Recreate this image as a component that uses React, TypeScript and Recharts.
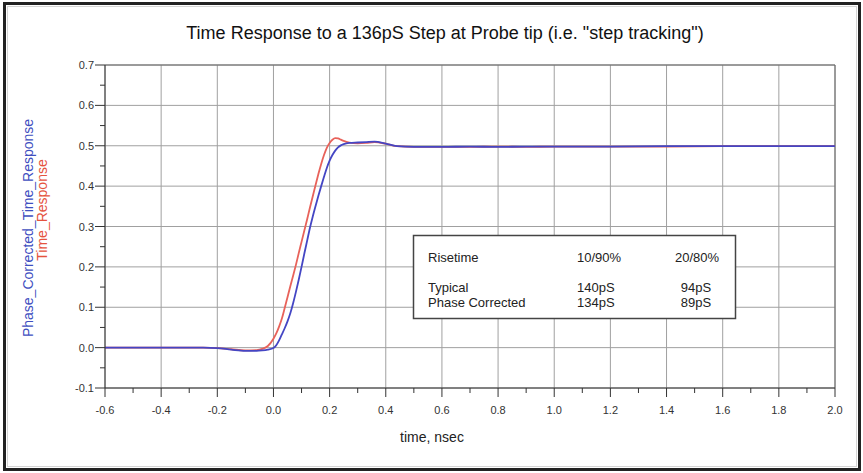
import React from 'react';
import { LineChart, Line, XAxis, YAxis, CartesianGrid, ReferenceLine } from 'recharts';

// time axis in nsec, step response values
const time = [
  -0.6, -0.4, -0.25, -0.2, -0.15, -0.1, -0.06, -0.04, -0.02, 0, 0.01, 0.02, 0.03, 0.04, 0.05,
  0.06, 0.07, 0.08, 0.09, 0.1, 0.11, 0.12, 0.13, 0.14, 0.15, 0.16, 0.17, 0.18, 0.19, 0.2,
  0.21, 0.22, 0.23, 0.24, 0.25, 0.27, 0.3, 0.33, 0.36, 0.4, 0.44, 0.5, 0.6, 0.7, 0.8, 0.9,
  1.0, 1.2, 1.4, 1.6, 1.8, 2.0,
];
const timeResponse = [
  0, 0, 0, -0.001, -0.004, -0.007, -0.006, -0.003, 0.004, 0.022, 0.035, 0.052, 0.072, 0.098, 0.125,
  0.152, 0.178, 0.205, 0.234, 0.262, 0.29, 0.318, 0.347, 0.375, 0.403, 0.43, 0.455, 0.477, 0.495, 0.507,
  0.515, 0.519, 0.518, 0.515, 0.512, 0.508, 0.506, 0.507, 0.509, 0.505, 0.499, 0.497, 0.497, 0.497, 0.498, 0.497,
  0.498, 0.498, 0.498, 0.499, 0.499, 0.499,
];
const phaseCorrected = [
  0, 0, 0, -0.001, -0.005, -0.008, -0.008, -0.007, -0.005, -0.001, 0.006, 0.018, 0.033, 0.048, 0.065,
  0.085, 0.11, 0.138, 0.168, 0.2, 0.233, 0.265, 0.297, 0.325, 0.351, 0.376, 0.4, 0.423, 0.445, 0.463,
  0.477, 0.488, 0.496, 0.501, 0.504, 0.507, 0.508, 0.509, 0.51, 0.505, 0.499, 0.497, 0.497, 0.498, 0.497, 0.498,
  0.498, 0.498, 0.499, 0.499, 0.499, 0.499,
];

const xTicks = [
  -0.6, -0.5, -0.4, -0.3, -0.2, -0.1, 0, 0.1, 0.2, 0.3, 0.4, 0.5, 0.6, 0.7, 0.8, 0.9,
  1.0, 1.1, 1.2, 1.3, 1.4, 1.5, 1.6, 1.7, 1.8, 1.9, 2.0,
];
const yTicks = [
  -0.1, -0.05, 0, 0.05, 0.1, 0.15, 0.2, 0.25, 0.3, 0.35, 0.4, 0.45, 0.5, 0.55, 0.6, 0.65, 0.7,
];
const xGrid = [-0.6, -0.4, -0.2, 0, 0.2, 0.4, 0.6, 0.8, 1.0, 1.2, 1.4, 1.6, 1.8, 2.0];
const yGrid = [-0.1, 0, 0.1, 0.2, 0.3, 0.4, 0.5, 0.6, 0.7];

const riseHeader = ['Risetime', '10/90%', '20/80%'];
const riseRows = [
  ['Typical', '140pS', '94pS'],
  ['Phase Corrected', '134pS', '89pS'],
];

const data = time.map((t, i) => ({ t, red: timeResponse[i], blue: phaseCorrected[i] }));

const FONT = "'Liberation Sans', Arial, sans-serif";
const AXIS = '#333';
const GRID = '#a0a0a0';
const RED = '#e8625a';
const BLUE = '#4446c4';

const isMajor = (v: number, step: number) => Math.abs(Math.round(v / step) % 2) === 0;

const XTick = (props: any) => {
  const { x, y, payload } = props;
  const v = payload.value;
  if (!isMajor(v, 0.1)) {
    return <line x1={x} y1={y} x2={x} y2={y + 5} stroke={AXIS} />;
  }
  return (
    <g>
      <line x1={x} y1={y} x2={x} y2={y + 9} stroke={AXIS} />
      <text x={x} y={y + 26} textAnchor="middle" fontSize={11} fill="#333" fontFamily={FONT}>
        {v.toFixed(1)}
      </text>
    </g>
  );
};

const YTick = (props: any) => {
  const { x, y, payload } = props;
  const v = payload.value;
  if (!isMajor(v, 0.05)) {
    return <line x1={x - 5} y1={y} x2={x} y2={y} stroke={AXIS} />;
  }
  return (
    <g>
      <line x1={x - 10} y1={y} x2={x} y2={y} stroke={AXIS} />
      <text x={x - 11} y={y + 4} textAnchor="end" fontSize={11} fill="#333" fontFamily={FONT}>
        {v.toFixed(1)}
      </text>
    </g>
  );
};

export default function App() {
  return (
    <div style={{ position: 'absolute', left: 0, top: 0, width: 863, height: 473, background: '#fff' }}>
      <LineChart
        width={863}
        height={473}
        data={data}
        margin={{ top: 65, right: 28, left: 0, bottom: 0 }}
      >
        <CartesianGrid
          stroke={GRID}
          strokeWidth={1}
          verticalValues={xGrid}
          horizontalValues={yGrid}
        />
        <XAxis
          dataKey="t"
          type="number"
          domain={[-0.6, 2.0]}
          ticks={xTicks}
          interval={0}
          height={85}
          tickSize={0}
          tickMargin={0}
          tickLine={false}
          tick={<XTick />}
          stroke={AXIS}
          allowDataOverflow
        />
        <YAxis
          type="number"
          domain={[-0.1, 0.7]}
          ticks={yTicks}
          interval={0}
          width={105}
          tickSize={0}
          tickMargin={0}
          tickLine={false}
          tick={<YTick />}
          stroke={AXIS}
          allowDataOverflow
        />
        <ReferenceLine y={0.7} stroke="#666" />
        <ReferenceLine x={2.0} stroke="#666" />
        <Line
          type="monotone"
          dataKey="red"
          stroke={RED}
          strokeWidth={1.8}
          dot={false}
          isAnimationActive={false}
        />
        <Line
          type="monotone"
          dataKey="blue"
          stroke={BLUE}
          strokeWidth={1.8}
          dot={false}
          isAnimationActive={false}
        />
      </LineChart>

      <svg
        width={863}
        height={473}
        style={{ position: 'absolute', left: 0, top: 0, pointerEvents: 'none' }}
        fontFamily={FONT}
      >
        <rect x={4.5} y={3.5} width={855} height={466} fill="none" stroke="#222" strokeWidth={3} />
        <rect x={7.5} y={6.5} width={849} height={460} fill="none" stroke="#d4d4d4" strokeWidth={1} />
        <text x={445} y={39} textAnchor="middle" fontSize={18} fill="#111">
          Time Response to a 136pS Step at Probe tip (i.e. "step tracking")
        </text>
        <text
          x={28}
          y={228}
          transform="rotate(-90 28 228)"
          textAnchor="middle"
          dominantBaseline="central"
          fontSize={14}
          fill="#3f4fbf"
        >
          Phase_Corrected_Time_Response
        </text>
        <text
          x={42}
          y={210}
          transform="rotate(-90 42 210)"
          textAnchor="middle"
          dominantBaseline="central"
          fontSize={14}
          fill="#e5533e"
        >
          Time_Response
        </text>
        <text x={432} y={442} textAnchor="middle" fontSize={14} fill="#222">
          time, nsec
        </text>

        <rect x={413.5} y={235.5} width={322} height={83} fill="#fff" stroke="#444" strokeWidth={1.5} />
        <g fontSize={13} fill="#222">
          <text x={428} y={262}>{riseHeader[0]}</text>
          <text x={577} y={262}>{riseHeader[1]}</text>
          <text x={675} y={262}>{riseHeader[2]}</text>
          {riseRows.map((row, i) => (
            <g key={row[0]}>
              <text x={428} y={292 + i * 15}>{row[0]}</text>
              <text x={577} y={292 + i * 15}>{row[1]}</text>
              <text x={696} y={292 + i * 15} textAnchor="middle">{row[2]}</text>
            </g>
          ))}
        </g>
      </svg>
    </div>
  );
}
